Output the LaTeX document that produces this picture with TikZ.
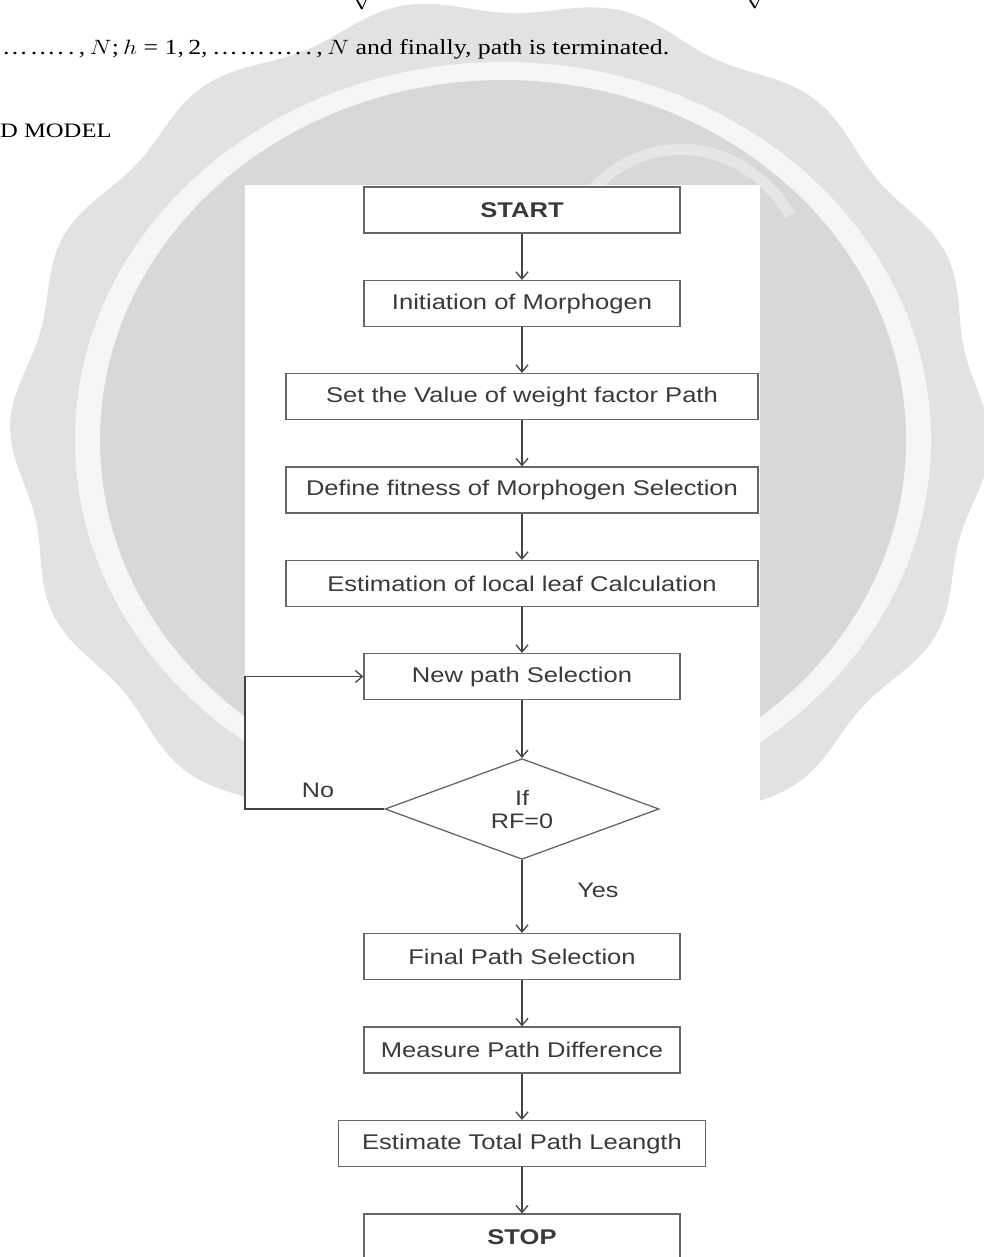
\documentclass[tikz,border=0pt]{standalone}
\usepackage{fontspec}
\setmainfont{Liberation Serif}
\newfontfamily\arialf{Liberation Sans}
\usetikzlibrary{shapes.geometric,arrows.meta}
\definecolor{sealout}{HTML}{E2E2E2}
\definecolor{sealring}{HTML}{F6F6F6}
\definecolor{sealin}{HTML}{D8D8D8}
\definecolor{swoosh}{HTML}{E6E6E6}
\definecolor{boxline}{HTML}{666666}
\definecolor{arrowc}{HTML}{444444}
\definecolor{txt}{HTML}{3A3A3A}
\newcommand\hs[1]{\scalebox{1.2}[1]{#1}}
\newcommand\eg{\hspace{1.5pt}}
\begin{document}
\begin{tikzpicture}[x=1pt,y=-1pt,
  fbox/.style={draw=boxline, line width=1.3pt, fill=white, minimum height=46pt,
    inner sep=0pt, text=txt, font=\arialf\fontsize{21.3}{24}\selectfont},
  decide/.style={diamond, draw=boxline, line width=1.3pt, fill=white,
    minimum width=274pt, minimum height=94pt, inner sep=0pt, text=txt,
    align=center, font=\arialf\fontsize{21}{23}\selectfont},
  flow/.style={draw=arrowc, line width=1.3pt, -{Straight Barb[length=7pt,width=12pt]}},
  lbl/.style={text=txt, inner sep=0pt, font=\arialf\fontsize{21}{24}\selectfont},
  page/.style={inner sep=0pt, text=black}
]
\useasboundingbox (0,0) rectangle (984,1257);
% watermark seal
\fill[sealout] plot[variable=\t, domain=0:360, samples=721]
  ({500+(482+8*cos(14*\t-19))*cos(\t)},{435+(430+8*cos(14*\t-19))*sin(\t)}) -- cycle;
\fill[sealring] (503,440) ellipse [x radius=428pt, y radius=378pt];
\fill[sealin] (503,440) ellipse [x radius=403pt, y radius=360pt];
\draw[swoosh, line width=11pt] (590,192) .. controls (650,125) and (745,140) .. (790,215);
% page text
\node[page, anchor=base west] (eqline) at (2,55)
  {\fontsize{21.5}{26}\selectfont\hs{…\eg…\eg.\,.\,,\,$N$;\,$h$\ = 1,\,2,\,…\eg…\eg…\eg.\,.\,,\,$N$ and finally, path is terminated.}};
\node[page, anchor=base west] (secttl) at (0,138) {\fontsize{20.5}{24}\selectfont\hs{D MODEL}};
\draw[line width=1.8pt] (357,0) -- (362,9);
\draw[line width=0.8pt] (362,9) -- (366,0);
\draw[line width=1.8pt] (750,0) -- (755,8);
\draw[line width=0.8pt] (755,8) -- (759,0);
% white figure area
\fill[white] (245,185) rectangle (760,1257);
% flowchart
\node[fbox, minimum width=316pt] (start) at (522,210) {\hs{\bfseries START}};
\node[fbox, minimum width=316pt] (init) at (522,303.5) {\hs{Initiation of Morphogen}};
\node[fbox, minimum width=472pt] (setv) at (522,396.5) {\hs{Set the Value of weight factor Path}};
\node[fbox, minimum width=472pt] (deff) at (522,490) {\hs{Define fitness of Morphogen Selection}};
\node[fbox, minimum width=472pt] (estl) at (522,583.5) {\hs{Estimation of local leaf Calculation}};
\node[fbox, minimum width=316pt] (newp) at (522,676.5) {\hs{New path Selection}};
\node[decide] (dec) at (522,809) {\hs{If}\\\hs{RF=0}};
\node[fbox, minimum width=316pt] (final) at (522,956.5) {\hs{Final Path Selection}};
\node[fbox, minimum width=316pt] (meas) at (522,1050) {\hs{Measure Path Difference}};
\node[fbox, minimum width=367pt] (esttot) at (522,1143.5) {\hs{Estimate Total Path Leangth}};
\node[fbox, minimum width=316pt] (stop) at (522,1237) {\hs{\bfseries STOP}};
\coordinate (lp1) at (245,809);
\coordinate (lp2) at (245,676.5);
\draw[flow] (start) -- (init);
\draw[flow] (init) -- (setv);
\draw[flow] (setv) -- (deff);
\draw[flow] (deff) -- (estl);
\draw[flow] (estl) -- (newp);
\draw[flow] (newp) -- (dec);
\draw[flow] (dec) -- (final);
\draw[flow] (final) -- (meas);
\draw[flow] (meas) -- (esttot);
\draw[flow] (esttot) -- (stop);
\draw[flow] (dec.west) -- (lp1) -- (lp2) -- (newp.west);
\node[lbl] (nolbl) at (318,790) {\hs{No}};
\node[lbl] (yeslbl) at (598,890) {\hs{Yes}};
\end{tikzpicture}
\end{document}
